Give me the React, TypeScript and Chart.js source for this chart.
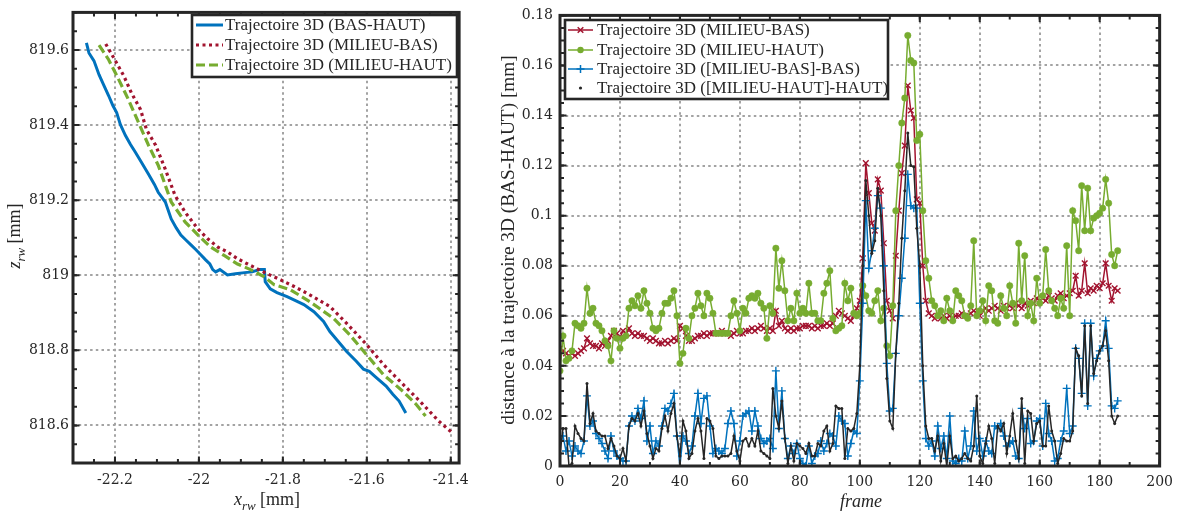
import React, { useEffect, useRef } from "react";
import { Chart, registerables } from "chart.js";

Chart.register(...registerables);

// ---------------- Left plot: trajectories (x_rw, z_rw) ----------------
const basHautX = [-22.268, -22.262, -22.25, -22.238, -22.227, -22.215, -22.205, -22.196, -22.187, -22.175, -22.163, -22.151, -22.137, -22.12, -22.106, -22.097, -22.08, -22.066, -22.054, -22.043, -22.031, -22.019, -22.007, -21.995, -21.984, -21.974, -21.967, -21.96, -21.95, -21.932, -21.913, -21.891, -21.873, -21.856, -21.844, -21.842, -21.83, -21.814, -21.79, -21.771, -21.75, -21.726, -21.703, -21.688, -21.672, -21.648, -21.625, -21.608, -21.594, -21.578, -21.554, -21.538, -21.523, -21.507];
const basHautZ = [819.619, 819.592, 819.571, 819.534, 819.507, 819.478, 819.452, 819.433, 819.401, 819.372, 819.348, 819.327, 819.301, 819.269, 819.242, 819.221, 819.195, 819.15, 819.126, 819.107, 819.094, 819.081, 819.068, 819.054, 819.041, 819.03, 819.015, 819.009, 819.015, 819.001, 819.004, 819.007, 819.009, 819.015, 819.015, 818.983, 818.964, 818.954, 818.943, 818.933, 818.922, 818.903, 818.877, 818.85, 818.829, 818.797, 818.771, 818.75, 818.744, 818.728, 818.705, 818.683, 818.665, 818.633];

const milieuBasX = [-22.222, -22.203, -22.179, -22.161, -22.139, -22.125, -22.103, -22.08, -22.057, -22.033, -22.002, -21.979, -21.955, -21.932, -21.908, -21.884, -21.861, -21.837, -21.806, -21.773, -21.736, -21.688, -21.648, -21.601, -21.561, -21.514, -21.467, -21.429, -21.396];
const milieuBasZ = [819.616, 819.579, 819.531, 819.486, 819.441, 819.388, 819.346, 819.282, 819.213, 819.168, 819.123, 819.097, 819.075, 819.062, 819.044, 819.03, 819.017, 819.004, 818.988, 818.97, 818.948, 818.917, 818.872, 818.816, 818.763, 818.71, 818.657, 818.612, 818.58];

const milieuHautX = [-22.238, -22.215, -22.191, -22.168, -22.144, -22.12, -22.097, -22.066, -22.033, -22.002, -21.972, -21.939, -21.908, -21.877, -21.844, -21.821, -21.783, -21.736, -21.679, -21.641, -21.601, -21.561, -21.514, -21.483, -21.46];
const milieuHautZ = [819.613, 819.574, 819.521, 819.468, 819.407, 819.346, 819.293, 819.195, 819.142, 819.107, 819.075, 819.052, 819.03, 819.015, 818.996, 818.975, 818.962, 818.93, 818.885, 818.842, 818.789, 818.736, 818.691, 818.657, 818.625];

const leftXTicks = [-22.2, -22, -21.8, -21.6, -21.4];
const leftXTickLabels = ["-22.2", "-22", "-21.8", "-21.6", "-21.4"];
const leftYTicks = [818.6, 818.8, 819, 819.2, 819.4, 819.6];
const leftYTickLabels = ["818.6", "818.8", "819", "819.2", "819.4", "819.6"];

// ---------------- Right plot: distances per frame ----------------
const distMilieuBas = [
  0.047, 0.046, 0.045, 0.044, 0.045, 0.044, 0.045, 0.046, 0.047, 0.051,
  0.049, 0.048, 0.048, 0.047, 0.049, 0.048, 0.05, 0.052, 0.054, 0.053,
  0.051, 0.054, 0.053, 0.055, 0.053, 0.052, 0.053, 0.052, 0.052, 0.051,
  0.05, 0.051, 0.05, 0.049, 0.049, 0.05, 0.049, 0.05, 0.051, 0.05,
  0.056, 0.055, 0.052, 0.05, 0.05, 0.051, 0.052, 0.052, 0.053, 0.052,
  0.053, 0.053, 0.053, 0.053, 0.054, 0.053, 0.053, 0.052, 0.053, 0.054,
  0.053, 0.053, 0.054, 0.054, 0.055, 0.054, 0.055, 0.056, 0.055, 0.054,
  0.055, 0.054, 0.062, 0.056, 0.058, 0.055, 0.054, 0.055, 0.054, 0.055,
  0.055, 0.056, 0.056, 0.056, 0.055, 0.056, 0.055, 0.056, 0.056, 0.057,
  0.056, 0.057, 0.06, 0.062, 0.061, 0.06, 0.059, 0.058, 0.06, 0.063,
  0.066, 0.083, 0.121, 0.109, 0.097, 0.094, 0.1145, 0.11, 0.089, 0.066,
  0.062, 0.059, 0.084, 0.102, 0.117, 0.128, 0.152, 0.142, 0.139, 0.1065,
  0.105, 0.08, 0.066, 0.061, 0.06, 0.059, 0.06, 0.059, 0.06, 0.059,
  0.06, 0.059, 0.06, 0.06, 0.061, 0.06, 0.06, 0.061, 0.062, 0.061,
  0.06, 0.062, 0.063, 0.062, 0.063, 0.064, 0.063, 0.062, 0.064, 0.063,
  0.064, 0.063, 0.065, 0.064, 0.063, 0.065, 0.064, 0.066, 0.065, 0.067,
  0.066, 0.067, 0.066, 0.068, 0.067, 0.066, 0.068, 0.069, 0.067, 0.068,
  0.069, 0.07, 0.076, 0.068, 0.07, 0.081, 0.069, 0.071, 0.07, 0.072,
  0.071, 0.073, 0.081, 0.072, 0.066, 0.071, 0.07,
];
const distMilieuHaut = [
  0.038, 0.052, 0.042, 0.043, 0.046, 0.057, 0.056, 0.055, 0.057, 0.071,
  0.061, 0.063, 0.057, 0.056, 0.054, 0.05, 0.048, 0.042, 0.054, 0.051,
  0.047, 0.051, 0.052, 0.063, 0.066, 0.064, 0.068, 0.063, 0.07, 0.065,
  0.061, 0.055, 0.054, 0.055, 0.061, 0.065, 0.065, 0.067, 0.07, 0.06,
  0.041, 0.045, 0.055, 0.051, 0.06, 0.063, 0.069, 0.064, 0.06, 0.069,
  0.067, 0.061, 0.053, 0.053, 0.053, 0.053, 0.053, 0.06, 0.066, 0.061,
  0.054, 0.063, 0.061, 0.067, 0.068, 0.067, 0.069, 0.065, 0.063, 0.051,
  0.064, 0.061, 0.087, 0.071, 0.082, 0.07, 0.058, 0.063, 0.058, 0.069,
  0.061, 0.063, 0.061, 0.073, 0.061, 0.061, 0.058, 0.058, 0.069, 0.073,
  0.078, 0.059, 0.054, 0.055, 0.056, 0.073, 0.066, 0.071, 0.061, 0.06,
  0.061, 0.072, 0.068, 0.062, 0.061, 0.066, 0.07, 0.058, 0.063, 0.048,
  0.044, 0.064, 0.102, 0.12, 0.137, 0.147, 0.172, 0.162, 0.161, 0.13,
  0.1325, 0.102, 0.082, 0.075, 0.066, 0.064, 0.06, 0.062, 0.058, 0.067,
  0.062, 0.058, 0.07, 0.068, 0.066, 0.06, 0.059, 0.064, 0.09, 0.06,
  0.062, 0.066, 0.058, 0.072, 0.07, 0.058, 0.057, 0.068, 0.063, 0.06,
  0.072, 0.065, 0.057, 0.089, 0.066, 0.084, 0.06, 0.065, 0.058, 0.075,
  0.065, 0.068, 0.0865, 0.07, 0.066, 0.063, 0.06, 0.067, 0.063, 0.088,
  0.06, 0.102, 0.098, 0.086, 0.112, 0.094, 0.111, 0.094, 0.099, 0.1,
  0.101, 0.103, 0.1145, 0.105, 0.0845, 0.08, 0.086,
];
const distMBBas = [
  0.012, 0.012, 0.006, 0.01, 0.004, 0.008, 0.006, 0.005, 0.01, 0.028,
  0.016, 0.018, 0.013, 0.011, 0.009, 0.006, 0.003, 0.012, 0.006, 0.004,
  0.003, 0.002, 0.002, 0.016, 0.02, 0.018, 0.023, 0.019, 0.026, 0.01,
  0.016, 0.005, 0.01, 0.008, 0.016, 0.023, 0.022, 0.025, 0.029, 0.012,
  0.0, 0.012, 0.01, 0.005, 0.008, 0.02, 0.029, 0.017, 0.027, 0.028,
  0.016, 0.005, 0.007, 0.006, 0.005, 0.007, 0.017, 0.022, 0.017, 0.004,
  0.01, 0.02, 0.021, 0.022, 0.014, 0.022, 0.016, 0.011, 0.009, 0.01,
  0.011, 0.007, 0.038, 0.015, 0.03, 0.011, 0.003, 0.008, 0.005, 0.009,
  0.003, 0.001, 0.0, 0.008, 0.001, 0.004, 0.005, 0.01, 0.006, 0.009,
  0.013, 0.012, 0.008, 0.02, 0.018, 0.017, 0.004, 0.009, 0.014, 0.013,
  0.034, 0.065, 0.106, 0.079, 0.086, 0.095, 0.108, 0.103, 0.08, 0.041,
  0.022, 0.023, 0.045, 0.06, 0.075, 0.091, 0.1165, 0.104, 0.103, 0.103,
  0.065, 0.034, 0.011, 0.008, 0.01, 0.004, 0.016, 0.007, 0.012, 0.003,
  0.02, 0.002, 0.001, 0.003, 0.002, 0.014, 0.003, 0.008, 0.022, 0.006,
  0.011, 0.004, 0.01, 0.006, 0.005, 0.016, 0.015, 0.017, 0.012, 0.008,
  0.009, 0.01, 0.004, 0.003, 0.023, 0.015, 0.019, 0.009, 0.01, 0.018,
  0.019, 0.008, 0.025, 0.013, 0.01, 0.002, 0.003, 0.01, 0.014, 0.031,
  0.013, 0.016, 0.047, 0.043, 0.029, 0.057, 0.024, 0.057, 0.036, 0.043,
  0.046, 0.048, 0.058, 0.047, 0.024, 0.023, 0.026,
];
const distMHHaut = [
  0.005, 0.015, 0.015, 0.0, 0.001, 0.016, 0.013, 0.011, 0.01, 0.033,
  0.017, 0.021, 0.014, 0.013, 0.012, 0.012, 0.007, 0.011, 0.008, 0.004,
  0.003, 0.007, 0.002, 0.016, 0.019, 0.018, 0.021, 0.016, 0.022, 0.013,
  0.008, 0.003, 0.007, 0.006, 0.015, 0.02, 0.014, 0.021, 0.025, 0.012,
  0.004, 0.018, 0.014, 0.003, 0.005, 0.014, 0.019, 0.014, 0.003, 0.019,
  0.018, 0.015, 0.004, 0.003, 0.004, 0.004, 0.004, 0.005, 0.012, 0.006,
  0.002, 0.01, 0.011, 0.008, 0.011, 0.008, 0.014, 0.006, 0.005, 0.004,
  0.003, 0.031, 0.02, 0.015, 0.026, 0.011, 0.001, 0.008, 0.002, 0.009,
  0.008, 0.007, 0.005, 0.009, 0.004, 0.004, 0.009, 0.008, 0.014, 0.016,
  0.006, 0.009, 0.024, 0.023, 0.023, 0.003, 0.015, 0.014, 0.015, 0.021,
  0.04, 0.08, 0.114, 0.1, 0.085, 0.09, 0.111, 0.1, 0.07, 0.035,
  0.018, 0.015, 0.045, 0.065, 0.091, 0.11, 0.133, 0.12, 0.1195, 0.095,
  0.08, 0.04, 0.016, 0.011, 0.011, 0.006, 0.012, 0.002, 0.009, 0.0,
  0.012, 0.003, 0.004, 0.002, 0.003, 0.005, 0.003, 0.002, 0.008, 0.028,
  0.004, 0.001, 0.009, 0.016, 0.011, 0.001, 0.016, 0.014, 0.017, 0.005,
  0.012, 0.021, 0.01, 0.003, 0.027, 0.001, 0.022, 0.021, 0.01, 0.017,
  0.018, 0.008, 0.008, 0.024, 0.014, 0.01, 0.001, 0.005, 0.011, 0.01,
  0.01, 0.014, 0.047, 0.044, 0.028, 0.056, 0.025, 0.056, 0.037, 0.042,
  0.046, 0.048, 0.054, 0.042, 0.02, 0.017, 0.02,
];
const frames = distMilieuBas.map((_, i) => i);

const rightXTicks = [0, 20, 40, 60, 80, 100, 120, 140, 160, 180, 200];
const rightXTickLabels = ["0", "20", "40", "60", "80", "100", "120", "140", "160", "180", "200"];
const rightYTicks = [0, 0.02, 0.04, 0.06, 0.08, 0.1, 0.12, 0.14, 0.16, 0.18];
const rightYTickLabels = ["0", "0.02", "0.04", "0.06", "0.08", "0.1", "0.12", "0.14", "0.16", "0.18"];

const leftLegend = ["Trajectoire 3D (BAS-HAUT)", "Trajectoire 3D (MILIEU-BAS)", "Trajectoire 3D (MILIEU-HAUT)"];
const rightLegend = [
  "Trajectoire 3D (MILIEU-BAS)",
  "Trajectoire 3D (MILIEU-HAUT)",
  "Trajectoire 3D ([MILIEU-BAS]-BAS)",
  "Trajectoire 3D ([MILIEU-HAUT]-HAUT)",
];

// ---------------- styles ----------------
const BLUE = "#0072BD";
const RED = "#A2142F";
const GREEN = "#77AC30";
const DARK = "#262626";
const GRID = "#a3a3a3";
const TICK_FONT = '"DejaVu Serif", serif';
const TEXT_FONT = "Liberation Serif";

function range(a: number, b: number, step: number) {
  const out: number[] = [];
  const n = Math.round((b - a) / step);
  for (let i = 0; i <= n; i++) out.push(+(a + i * step).toFixed(6));
  return out;
}

type Seg = { t: string; it?: boolean; sub?: boolean };

function drawRich(ctx: CanvasRenderingContext2D, segs: Seg[], size: number, cx: number, cy: number, rotate: boolean) {
  ctx.save();
  ctx.translate(cx, cy);
  if (rotate) ctx.rotate(-Math.PI / 2);
  ctx.fillStyle = DARK;
  ctx.textBaseline = "alphabetic";
  ctx.textAlign = "left";
  const fontOf = (s: Seg) => `${s.it ? "italic " : ""}${s.sub ? Math.round(size * 0.72) : size}px "${TEXT_FONT}"`;
  let total = 0;
  const widths = segs.map((s) => {
    ctx.font = fontOf(s);
    const w = ctx.measureText(s.t).width;
    total += w;
    return w;
  });
  let x = -total / 2;
  segs.forEach((s, i) => {
    ctx.font = fontOf(s);
    ctx.fillText(s.t, x, s.sub ? size * 0.25 : 0);
    x += widths[i];
  });
  ctx.restore();
}

function drawMarker(ctx: CanvasRenderingContext2D, kind: string, x: number, y: number, color: string) {
  ctx.save();
  ctx.strokeStyle = color;
  ctx.fillStyle = color;
  ctx.lineWidth = 1.5;
  ctx.setLineDash([]);
  ctx.beginPath();
  if (kind === "x") {
    const r = 2.8;
    ctx.moveTo(x - r, y - r); ctx.lineTo(x + r, y + r);
    ctx.moveTo(x - r, y + r); ctx.lineTo(x + r, y - r);
    ctx.stroke();
  } else if (kind === "+") {
    const r = 4;
    ctx.moveTo(x - r, y); ctx.lineTo(x + r, y);
    ctx.moveTo(x, y - r); ctx.lineTo(x, y + r);
    ctx.stroke();
  } else if (kind === "o") {
    ctx.arc(x, y, 3.2, 0, Math.PI * 2);
    ctx.fill();
  } else if (kind === ".") {
    ctx.arc(x, y, 1.6, 0, Math.PI * 2);
    ctx.fill();
  }
  ctx.restore();
}

type LegendItem = { label: string; color: string; dash?: number[]; width: number; marker?: string; noLine?: boolean };
type LegendSpec = { x: number; y: number; w: number; h: number; rows: number[]; lx0: number; lx1: number; tx: number; items: LegendItem[] };

function drawLegend(ctx: CanvasRenderingContext2D, L: LegendSpec) {
  ctx.save();
  ctx.fillStyle = "#ffffff";
  ctx.fillRect(L.x, L.y, L.w, L.h);
  ctx.strokeStyle = DARK;
  ctx.lineWidth = 2.6;
  ctx.setLineDash([]);
  ctx.strokeRect(L.x, L.y, L.w, L.h);
  L.items.forEach((it, i) => {
    const y = L.rows[i];
    if (!it.noLine) {
      ctx.save();
      ctx.strokeStyle = it.color;
      ctx.lineWidth = it.width;
      ctx.setLineDash(it.dash || []);
      ctx.beginPath();
      ctx.moveTo(L.lx0, y);
      ctx.lineTo(L.lx1, y);
      ctx.stroke();
      ctx.restore();
    }
    if (it.marker) drawMarker(ctx, it.marker, (L.lx0 + L.lx1) / 2, y, it.color);
    ctx.fillStyle = DARK;
    ctx.font = `17px "${TEXT_FONT}"`;
    ctx.textBaseline = "middle";
    ctx.textAlign = "left";
    ctx.fillText(it.label, L.tx, y + 1);
  });
  ctx.restore();
}

type Deco = {
  majorX: number[]; minorX: number[]; majorY: number[]; minorY: number[];
  legend: LegendSpec;
  xLabel: { segs: Seg[]; cx: number; cy: number; size: number };
  yLabel: { segs: Seg[]; cx: number; cy: number; size: number };
};

function decoPlugin(d: Deco) {
  return {
    id: "deco",
    afterDraw(chart: any) {
      const ctx: CanvasRenderingContext2D = chart.ctx;
      const a = chart.chartArea;
      const xs = chart.scales.x;
      const ys = chart.scales.y;
      ctx.save();
      ctx.strokeStyle = DARK;
      ctx.setLineDash([]);
      ctx.lineWidth = 2;
      const tick = (vals: number[], len: number, isX: boolean) => {
        ctx.beginPath();
        vals.forEach((v) => {
          if (isX) {
            const p = xs.getPixelForValue(v);
            ctx.moveTo(p, a.bottom); ctx.lineTo(p, a.bottom - len);
            ctx.moveTo(p, a.top); ctx.lineTo(p, a.top + len);
          } else {
            const p = ys.getPixelForValue(v);
            ctx.moveTo(a.left, p); ctx.lineTo(a.left + len, p);
            ctx.moveTo(a.right, p); ctx.lineTo(a.right - len, p);
          }
        });
        ctx.stroke();
      };
      tick(d.minorX, 4, true);
      tick(d.minorY, 4, false);
      tick(d.majorX, 6.5, true);
      tick(d.majorY, 6.5, false);
      ctx.lineWidth = 3;
      ctx.strokeRect(a.left, a.top, a.right - a.left, a.bottom - a.top);
      ctx.restore();
      drawLegend(ctx, d.legend);
      drawRich(ctx, d.xLabel.segs, d.xLabel.size, d.xLabel.cx, d.xLabel.cy, false);
      drawRich(ctx, d.yLabel.segs, d.yLabel.size, d.yLabel.cx, d.yLabel.cy, true);
    },
  };
}

function fixedTicks(values: number[]) {
  return (scale: any) => {
    scale.ticks = values.map((v) => ({ value: v }));
  };
}
function labelFor(values: number[], labels: string[]) {
  return (v: any) => {
    const i = values.findIndex((t) => Math.abs(t - Number(v)) < 1e-9);
    return i >= 0 ? labels[i] : "";
  };
}

function axis(min: number, max: number, ticks: number[], labels: string[], size: { w?: number; h?: number }, pad: number) {
  return {
    type: "linear" as const,
    min,
    max,
    afterBuildTicks: fixedTicks(ticks),
    afterFit: (s: any) => {
      if (size.w !== undefined) s.width = size.w;
      if (size.h !== undefined) s.height = size.h;
    },
    grid: { color: GRID, lineWidth: 2, drawTicks: false },
    border: { display: false, dash: [2.5, 3.2] },
    ticks: {
      autoSkip: false,
      maxRotation: 0,
      padding: pad,
      color: DARK,
      font: { family: TICK_FONT, size: 14 },
      callback: labelFor(ticks, labels),
    },
  };
}

const LEFT_W = 478;
const RIGHT_W = 703;
const H = 511;

export default function App() {
  const leftRef = useRef<HTMLCanvasElement>(null);
  const rightRef = useRef<HTMLCanvasElement>(null);

  useEffect(() => {
    const pts = (xs: number[], ys: number[]) => xs.map((x, i) => ({ x, y: ys[i] }));
    const left = new Chart(leftRef.current as HTMLCanvasElement, {
      type: "scatter",
      data: {
        datasets: [
          { label: leftLegend[0], data: pts(basHautX, basHautZ), showLine: true, borderColor: BLUE, borderWidth: 3, pointRadius: 0, order: 3 },
          { label: leftLegend[1], data: pts(milieuBasX, milieuBasZ), showLine: true, borderColor: RED, borderWidth: 3.2, borderDash: [3, 3.5], pointRadius: 0, order: 2 },
          { label: leftLegend[2], data: pts(milieuHautX, milieuHautZ), showLine: true, borderColor: GREEN, borderWidth: 3.2, borderDash: [9, 4], pointRadius: 0, order: 1 },
        ],
      },
      options: {
        animation: false,
        responsive: false,
        devicePixelRatio: 1,
        events: [],
        layout: { padding: { left: 0, top: 9, right: LEFT_W - 463, bottom: 0 } },
        plugins: { legend: { display: false }, tooltip: { enabled: false } },
        scales: {
          x: axis(-22.3, -21.38, leftXTicks, leftXTickLabels, { h: H - 463 }, 9),
          y: axis(818.5, 819.7, leftYTicks, leftYTickLabels, { w: 73 }, 4),
        },
      } as any,
      plugins: [
        decoPlugin({
          majorX: leftXTicks,
          minorX: range(-22.3, -21.4, 0.05),
          majorY: leftYTicks,
          minorY: range(818.5, 819.7, 0.05),
          legend: {
            x: 192, y: 15, w: 265, h: 62, rows: [25, 45, 65], lx0: 196, lx1: 223, tx: 225,
            items: [
              { label: leftLegend[0], color: BLUE, width: 3 },
              { label: leftLegend[1], color: RED, width: 3.2, dash: [3, 3.5] },
              { label: leftLegend[2], color: GREEN, width: 3.2, dash: [9, 4] },
            ],
          },
          xLabel: { segs: [{ t: "x", it: true }, { t: "rw", it: true, sub: true }, { t: " [mm]" }], cx: 267, cy: 505, size: 18 },
          yLabel: { segs: [{ t: "z", it: true }, { t: "rw", it: true, sub: true }, { t: " [mm]" }], cx: 20, cy: 236, size: 18 },
        }),
      ],
    });

    const ser = (vals: number[]) => frames.map((f, i) => ({ x: f, y: vals[i] }));
    const right = new Chart(rightRef.current as HTMLCanvasElement, {
      type: "scatter",
      data: {
        datasets: [
          { label: rightLegend[0], data: ser(distMilieuBas), showLine: true, borderColor: RED, backgroundColor: RED, borderWidth: 1.5, pointStyle: "crossRot", pointRadius: 4, pointBorderWidth: 1.4, order: 4 },
          { label: rightLegend[1], data: ser(distMilieuHaut), showLine: true, borderColor: GREEN, backgroundColor: GREEN, borderWidth: 1.5, pointStyle: "circle", pointRadius: 3.2, pointBorderWidth: 0.5, order: 3 },
          { label: rightLegend[2], data: ser(distMBBas), showLine: true, borderColor: BLUE, backgroundColor: BLUE, borderWidth: 1.5, pointStyle: "cross", pointRadius: 4, pointBorderWidth: 1.4, order: 2 },
          { label: rightLegend[3], data: ser(distMHHaut), showLine: true, borderColor: DARK, backgroundColor: DARK, borderWidth: 1.5, pointStyle: "circle", pointRadius: 1.5, pointBorderWidth: 0, order: 1 },
        ],
      },
      options: {
        animation: false,
        responsive: false,
        devicePixelRatio: 1,
        events: [],
        layout: { padding: { left: 0, top: 14, right: RIGHT_W - 683, bottom: 0 } },
        plugins: { legend: { display: false }, tooltip: { enabled: false } },
        scales: {
          x: axis(0, 200, rightXTicks, rightXTickLabels, { h: H - 466 }, 8),
          y: axis(0, 0.18, rightYTicks, rightYTickLabels, { w: 82 }, 7),
        },
      } as any,
      plugins: [
        decoPlugin({
          majorX: rightXTicks,
          minorX: range(0, 200, 10),
          majorY: rightYTicks,
          minorY: range(0, 0.18, 0.005),
          legend: {
            x: 87, y: 20, w: 323, h: 79, rows: [30, 50, 69, 88], lx0: 90, lx1: 115, tx: 119,
            items: [
              { label: rightLegend[0], color: RED, width: 1.5, marker: "x" },
              { label: rightLegend[1], color: GREEN, width: 1.5, marker: "o" },
              { label: rightLegend[2], color: BLUE, width: 1.5, marker: "+" },
              { label: rightLegend[3], color: DARK, width: 1.5, marker: ".", noLine: true },
            ],
          },
          xLabel: { segs: [{ t: "frame", it: true }], cx: 861 - LEFT_W, cy: 507, size: 18 },
          yLabel: { segs: [{ t: "distance à la trajectoire 3D (BAS-HAUT) [mm]" }], cx: 36, cy: 240, size: 19.3 },
        }),
      ],
    });

    return () => {
      left.destroy();
      right.destroy();
    };
  }, []);

  return (
    <div style={{ position: "absolute", left: 0, top: 0, width: LEFT_W + RIGHT_W, height: H, background: "#ffffff" }}>
      <canvas ref={leftRef} width={LEFT_W} height={H} style={{ position: "absolute", left: 0, top: 0, width: LEFT_W, height: H }} />
      <canvas ref={rightRef} width={RIGHT_W} height={H} style={{ position: "absolute", left: LEFT_W, top: 0, width: RIGHT_W, height: H }} />
    </div>
  );
}
